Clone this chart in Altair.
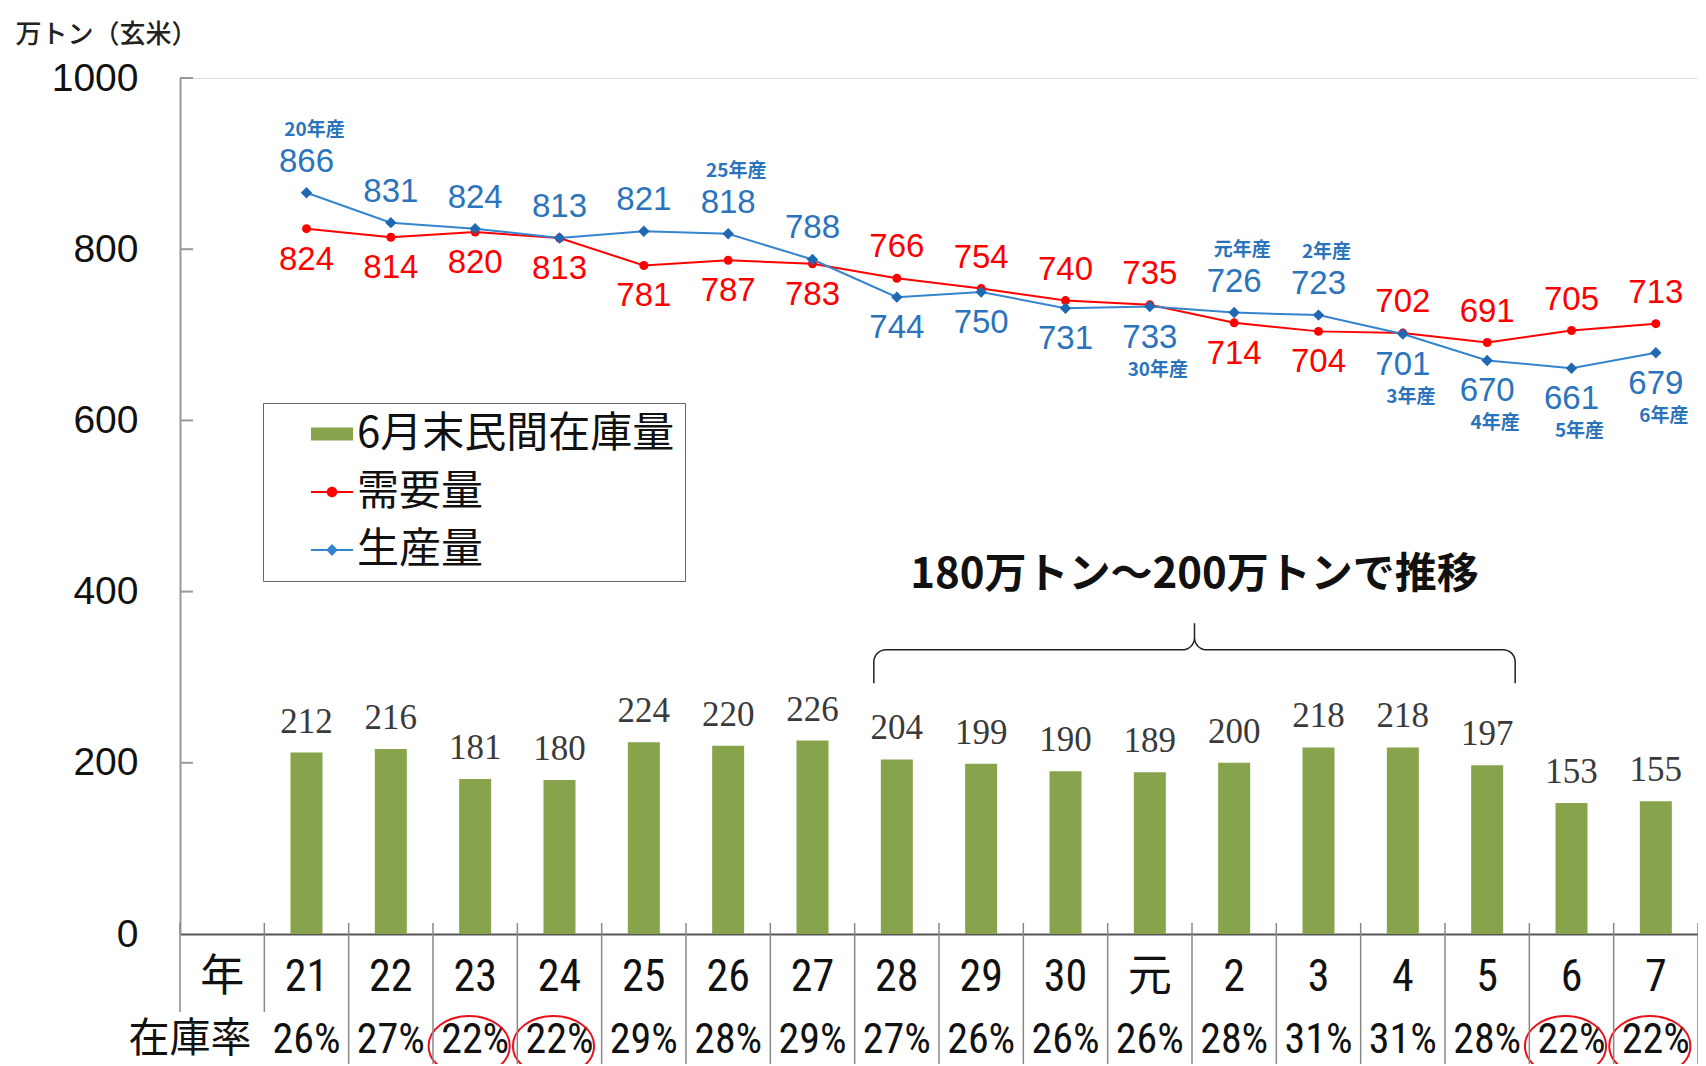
import math
import altair as alt
import pandas as pd

# ---------------- data ----------------
years = ["21", "22", "23", "24", "25", "26", "27", "28", "29", "30", "元",
         "2", "3", "4", "5", "6", "7"]
x_domain = ["年"] + years
stock = [212, 216, 181, 180, 224, 220, 226, 204, 199, 190, 189, 200, 218, 218, 197, 153, 155]
demand = [824, 814, 820, 813, 781, 787, 783, 766, 754, 740, 735, 714, 704, 702, 691, 705, 713]
production = [866, 831, 824, 813, 821, 818, 788, 744, 750, 731, 733, 726, 723, 701, 670, 661, 679]
crop_tags = ["20年産", "", "", "", "", "25年産", "", "", "", "", "30年産",
             "元年産", "2年産", "3年産", "4年産", "5年産", "6年産"]
stock_rate = ["26%", "27%", "22%", "22%", "29%", "28%", "29%", "27%", "26%", "26%",
              "26%", "28%", "31%", "31%", "28%", "22%", "22%"]
circled_years = ["23", "24", "6", "7"]
series = ["6月末民間在庫量", "需要量", "生産量"]
y_ticks = [0, 200, 400, 600, 800, 1000]
brace_from, brace_to = "28", "5"
brace_text = "180万トン～200万トンで推移"
y_title = "万トン（玄米）"
rate_title = "在庫率"

# ---------------- styles ----------------
GREEN = "#87A34B"
RED = "#FF0000"
BLUE_LINE = "#3584CE"
BLUE_PT = "#1F69B3"
BLUE_TXT = "#2B74BC"
JP = "Noto Sans CJK JP"
SANS = "Liberation Sans, Arial, Noto Sans CJK JP"
NARROW = "Liberation Sans Narrow, Arial Narrow, Roboto Condensed, Liberation Sans, Noto Sans CJK JP"
SERIF = "Liberation Serif, Times New Roman, DejaVu Serif"

W, H = 1518, 856
PX_BAND = W / len(x_domain)
PX_VAL = H / 1000.0
ROW_Y = 962  # pixel row of the 在庫率 line, below the plot

df = pd.DataFrame({
    "year": years, "stock": stock, "demand": demand, "production": production,
    "tag": crop_tags, "rate": stock_rate,
})

x_enc = alt.X("year:N", scale=alt.Scale(domain=x_domain, paddingInner=0, paddingOuter=0),
              axis=alt.Axis(title=None, ticks=False, tickSize=0, domainColor="#555",
                            domainWidth=2, labelFont=NARROW, labelFontSize=44,
                            labelColor="#111", labelPadding=43, labelBaseline="middle",
                            labelAngle=0, labelOverlap=False))
y_scale = alt.Scale(domain=[0, 1000], nice=False, zero=True)
y_axis = alt.Axis(values=y_ticks, format="d", grid=False, ticks=False, tickSize=0,
                  domainColor="#999", domainWidth=2, labelFont=SANS, labelFontSize=39,
                  labelColor="#111", labelPadding=42, title=y_title, titleAngle=0,
                  titleX=-165, titleY=-36, titleAlign="left", titleBaseline="alphabetic",
                  titleFont=JP, titleFontSize=26, titleFontWeight=500, titleColor="#222")


def Y(field):
    return alt.Y(f"{field}:Q", scale=y_scale, axis=y_axis)


base = alt.Chart(df)

bars = base.mark_bar(color=GREEN, size=32).encode(x=x_enc, y=Y("stock"))
bar_labels = base.mark_text(font=SERIF, fontSize=35, color="#3a3a3a", dy=-20,
                            baseline="alphabetic").encode(x=x_enc, y=Y("stock"), text="stock:Q")

dem_line = base.mark_line(color=RED, strokeWidth=2).encode(x=x_enc, y=Y("demand"))
dem_pts = base.mark_point(shape="circle", filled=True, size=80, color=RED, opacity=1).encode(
    x=x_enc, y=Y("demand"))
pro_line = base.mark_line(color=BLUE_LINE, strokeWidth=2).encode(x=x_enc, y=Y("production"))
pro_pts = base.mark_point(shape="diamond", filled=True, size=130, color=BLUE_PT, opacity=1).encode(
    x=x_enc, y=Y("production"))

pro_high = "datum.production >= datum.demand"
pro_low = "datum.production < datum.demand"


def vlabel(field, cond, dy, color):
    return base.transform_filter(cond).mark_text(
        font=SANS, fontSize=33, color=color, dy=dy, baseline="middle").encode(
        x=x_enc, y=Y(field), text=f"{field}:Q")


dem_above = vlabel("demand", pro_low, -31, RED)
dem_below = vlabel("demand", pro_high, 31, RED)
pro_above = vlabel("production", pro_high, -31, BLUE_TXT)
pro_below = vlabel("production", pro_low, 31, BLUE_TXT)


def tlabel(cond, dy):
    return base.transform_filter(cond).transform_filter("datum.tag != ''").mark_text(
        font=JP, fontSize=19, fontWeight="bold", color=BLUE_TXT, dy=dy, dx=8,
        baseline="middle").encode(x=x_enc, y=Y("production"), text="tag:N")


tag_above = tlabel(pro_high, -63)
tag_below = tlabel(pro_low, 63)

rate_text = base.mark_text(font=NARROW, fontSize=42, color="#111", baseline="middle").encode(
    x=x_enc, y=alt.value(ROW_Y), text="rate:N")
rate_head = alt.Chart(pd.DataFrame({"t": [rate_title]})).mark_text(
    font=JP, fontSize=41, color="#111", baseline="middle").encode(
    x=alt.value(10), y=alt.value(ROW_Y), text="t:N")

ELLIPSE = "M-1,0A1,0.74,0,1,1,1,0A1,0.74,0,1,1,-1,0Z"
circles = base.transform_filter(alt.FieldOneOfPredicate(field="year", oneOf=circled_years)).mark_point(
    shape=ELLIPSE, filled=False, size=6600, color="#E8141B", strokeWidth=2, opacity=1,
    xOffset=-6).encode(x=x_enc, y=alt.value(ROW_Y + 6))

# legend (built from the scale domain)
P_RECT = "M-1,-0.31H1V0.31H-1Z"
P_RED = ("M-1,-0.05H1V0.05H-1Z"
         "M-0.25,0A0.25,0.25,0,1,1,0.25,0A0.25,0.25,0,1,1,-0.25,0Z")
P_BLUE = "M-1,-0.05H1V0.05H-1ZM0,-0.28L0.28,0L0,0.28L-0.28,0Z"
leg = alt.Legend(title=None, orient="none", legendX=83, legendY=325, direction="vertical",
                 labelFont=JP, labelFontSize=42, labelColor="#111", symbolSize=1764,
                 symbolStrokeWidth=0, padding=10, rowPadding=16, strokeColor="#666",
                 fillColor="white", symbolOffset=38, labelOffset=4, labelLimit=800,
                 labelExpr="datum.label + '\u3000'")
legend_layer = alt.Chart(pd.DataFrame({"s": series})).transform_filter("false").mark_point(
    filled=True, opacity=1).encode(
    color=alt.Color("s:N", scale=alt.Scale(domain=series, range=[GREEN, RED, BLUE_LINE]), legend=leg),
    shape=alt.Shape("s:N", scale=alt.Scale(domain=series, range=[P_RECT, P_RED, P_BLUE]), legend=leg),
)

band_layer = alt.layer(bars, bar_labels, dem_line, pro_line, dem_pts, pro_pts,
                       dem_above, dem_below, pro_above, pro_below, tag_above, tag_below,
                       rate_text, rate_head, circles, legend_layer)

# ---------------- annotation layer (band-index x scale) ----------------
kx = alt.Scale(domain=[0, len(x_domain)], nice=False, zero=False)
sep = pd.DataFrame({"k": list(range(len(x_domain) + 1))})
sep_short = alt.Chart(sep).transform_filter("datum.k <= 1").mark_rule(
    color="#888", strokeWidth=1.5).encode(
    x=alt.X("k:Q", scale=kx, axis=None), y=alt.value(H - 11), y2=alt.value(934))
sep_long = alt.Chart(sep).transform_filter("datum.k >= 2").mark_rule(
    color="#888", strokeWidth=1.5).encode(
    x=alt.X("k:Q", scale=kx, axis=None), y=alt.value(H - 11), y2=alt.value(1000))
yticks = alt.Chart(pd.DataFrame({"v": y_ticks[1:]})).mark_rule(color="#999", strokeWidth=2).encode(
    x=alt.value(0), x2=alt.value(13), y=Y("v"))

# curly brace spanning the columns brace_from .. brace_to
i0 = x_domain.index(brace_from)
i1 = x_domain.index(brace_to)
xl = (i0 + 0.5) * PX_BAND - 23
xr = (i1 + 0.5) * PX_BAND + 28
xc = (xl + xr) / 2
yT, yE, yN = 332 * PX_VAL, 293 * PX_VAL, 363 * PX_VAL
r = 12.0


def arc(cx, cy, a0, a1, n=10):
    return [(cx + r * math.cos(math.radians(a0 + (a1 - a0) * t / n)),
             cy + r * math.sin(math.radians(a0 + (a1 - a0) * t / n))) for t in range(n + 1)]


half = [(xl, yE)] + arc(xl + r, yT - r, 180, 90) + arc(xc - r, yT + r, -90, 0) + [(xc, yN)]
right = [(2 * xc - px, py) for px, py in reversed(half)]
pts = half + right
brace_df = pd.DataFrame({"k": [p[0] / PX_BAND for p in pts], "v": [p[1] / PX_VAL for p in pts],
                         "o": list(range(len(pts)))})
brace = alt.Chart(brace_df).mark_line(color="#222", strokeWidth=1.5).encode(
    x=alt.X("k:Q", scale=kx, axis=None), y=Y("v"), order="o:Q")
brace_label = alt.Chart(pd.DataFrame({"k": [xc / PX_BAND], "v": [419], "t": [brace_text]})).mark_text(
    font=JP, fontSize=42, fontWeight="bold", color="#111", baseline="middle").encode(
    x=alt.X("k:Q", scale=kx, axis=None), y=Y("v"), text="t:N")

annot_layer = alt.layer(sep_short, sep_long, yticks, brace, brace_label)

chart = alt.layer(band_layer, annot_layer).resolve_scale(x="independent").properties(
    width=W, height=H,
    autosize=alt.AutoSizeParams(type="none"),
    padding={"left": 172, "top": 70, "right": 0, "bottom": 130},
).configure_view(stroke=None).configure(background="white")

chart.save("out.html", embed_options={"renderer": "svg", "actions": False})
